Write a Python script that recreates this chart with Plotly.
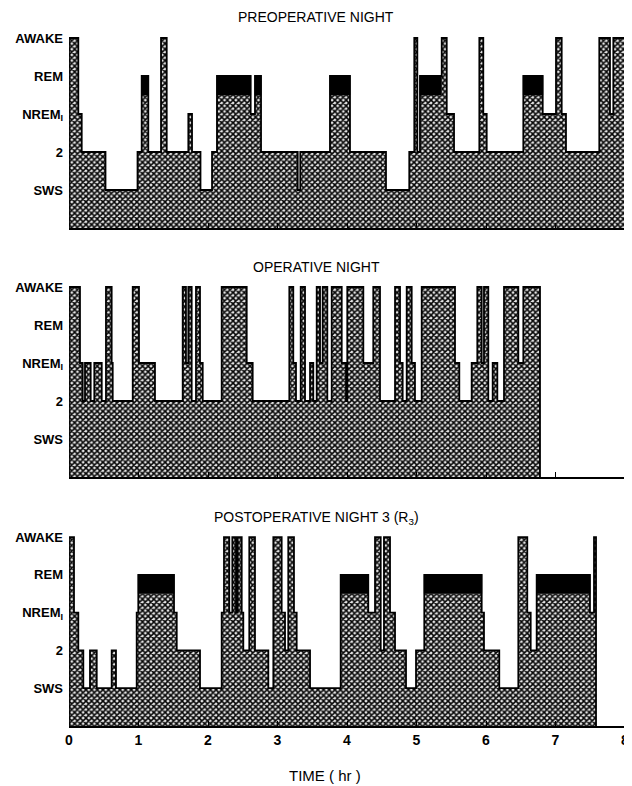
import plotly.graph_objects as go

# ---------------- data ----------------
stage_names = ["AWAKE", "REM", "NREM1", "2", "SWS"]
stage_ticks = ["AWAKE", "REM", "NREM<sub>I</sub>", "2", "SWS"]
stage_levels = [5, 4, 3, 2, 1]
hour_ticks = [0, 1, 2, 3, 4, 5, 6, 7, 8]

pre_start = [0.0, 0.134, 0.183, 0.525, 0.986, 1.046, 1.141, 1.324, 1.406, 1.717,
             1.770, 1.892, 2.058, 2.129, 2.614, 2.676, 2.763, 3.291, 3.328, 3.755,
             4.043, 4.561, 4.896, 4.968, 5.012, 5.050, 5.363, 5.435, 5.540, 5.904,
             5.961, 6.010, 6.537, 6.816, 7.007, 7.089, 7.151, 7.630, 7.784, 7.832]
pre_stage = ["AWAKE", "NREM1", "2", "SWS", "2", "REM", "2", "AWAKE", "2", "NREM1",
             "2", "SWS", "2", "REM", "NREM1", "REM", "2", "SWS", "2", "REM",
             "2", "SWS", "2", "AWAKE", "2", "REM", "AWAKE", "NREM1", "2", "AWAKE",
             "NREM1", "2", "REM", "NREM1", "AWAKE", "NREM1", "2", "AWAKE", "NREM1", "AWAKE"]
pre_end = 8.0

op_start = [0.0, 0.158, 0.197, 0.230, 0.312, 0.364, 0.471, 0.532, 0.614, 0.629,
            0.917, 1.007, 1.237, 1.636, 1.683, 1.717, 1.765, 1.827, 1.885, 1.924,
            2.197, 2.557, 2.643, 3.170, 3.227, 3.266, 3.334, 3.396, 3.468, 3.515,
            3.564, 3.612, 3.650, 3.717, 3.780, 3.924, 3.986, 4.004, 4.235, 4.378,
            4.475, 4.691, 4.763, 4.801, 4.859, 4.931, 4.978, 5.075, 5.554, 5.616,
            5.794, 5.875, 5.938, 5.971, 6.033, 6.096, 6.163, 6.259, 6.465, 6.537]
op_stage = ["AWAKE", "NREM1", "2", "NREM1", "2", "NREM1", "2", "AWAKE", "NREM1", "2",
            "AWAKE", "NREM1", "2", "AWAKE", "NREM1", "AWAKE", "2", "AWAKE", "NREM1", "2",
            "AWAKE", "NREM1", "2", "AWAKE", "NREM1", "2", "AWAKE", "2", "NREM1", "2",
            "AWAKE", "NREM1", "AWAKE", "2", "AWAKE", "NREM1", "2", "AWAKE", "NREM1", "AWAKE",
            "2", "AWAKE", "NREM1", "2", "AWAKE", "NREM1", "2", "AWAKE", "NREM1", "2",
            "NREM1", "AWAKE", "NREM1", "AWAKE", "2", "NREM1", "2", "AWAKE", "NREM1", "AWAKE"]
op_end = 6.777

post_start = [0.0, 0.072, 0.134, 0.206, 0.302, 0.399, 0.614, 0.676, 0.974, 0.997,
              1.511, 1.550, 1.885, 2.197, 2.230, 2.306, 2.350, 2.403, 2.427, 2.485,
              2.508, 2.594, 2.676, 2.868, 2.940, 3.060, 3.108, 3.155, 3.237, 3.276,
              3.468, 3.909, 4.306, 4.403, 4.485, 4.532, 4.619, 4.691, 4.849, 4.993,
              5.112, 5.938, 5.971, 6.191, 6.465, 6.594, 6.643, 6.729, 7.496, 7.554]
post_stage = ["AWAKE", "NREM1", "2", "SWS", "2", "SWS", "2", "SWS", "NREM1", "REM",
              "NREM1", "2", "SWS", "NREM1", "AWAKE", "NREM1", "AWAKE", "NREM1", "AWAKE", "NREM1",
              "2", "AWAKE", "2", "SWS", "AWAKE", "NREM1", "2", "AWAKE", "NREM1", "2",
              "SWS", "REM", "NREM1", "AWAKE", "2", "AWAKE", "NREM1", "2", "SWS", "2",
              "REM", "NREM1", "2", "SWS", "AWAKE", "NREM1", "2", "REM", "NREM1", "AWAKE"]
post_end = 7.583

panels = [
    ("PREOPERATIVE NIGHT", pre_start, pre_stage, pre_end),
    ("OPERATIVE NIGHT", op_start, op_stage, op_end),
    ("POSTOPERATIVE NIGHT 3 (R<sub>3</sub>)", post_start, post_stage, post_end),
]

# ---------------- layout geometry (page pixels; page body adds an 8px offset) ----------------
OFF = 8
W, H = 632 - OFF, 786 - OFF
x_left, x_right = 69 - OFF, 625 - OFF
panel_px = [(26.6 - OFF, 228 - OFF), (275.6 - OFF, 477 - OFF), (525.7 - OFF, 726 - OFF)]
title_y = [17 - OFF, 267 - OFF, 518 - OFF]
xlabel_y = 775 - OFF
center_x = 316 - OFF
YMAX = 5.3
REM_SPLIT = 3.5

level_of = dict(zip(stage_names, stage_levels))
FONT = "Liberation Sans"

fig = go.Figure()

for i, (title, starts, stages, end) in enumerate(panels):
    xa = "x" if i == 0 else f"x{i+1}"
    ya = "y" if i == 0 else f"y{i+1}"
    lv_fill = [REM_SPLIT if s == "REM" else level_of[s] for s in stages]
    lv_line = [level_of[s] for s in stages]
    xs = [starts[0]] + list(starts) + [end, end]
    ys_fill = [0] + lv_fill + [lv_fill[-1], 0]
    ys_line = [0] + lv_line + [lv_line[-1], 0]

    # stippled fill
    fig.add_trace(go.Scatter(
        x=xs, y=ys_fill, mode="lines", line=dict(width=0, shape="hv", color="black"),
        fill="tozeroy", fillcolor="white",
        fillpattern=dict(shape="x", size=4, solidity=0.62, fgcolor="#050505",
                         bgcolor="#e6e6e6", fillmode="replace"),
        xaxis=xa, yaxis=ya, hoverinfo="skip", showlegend=False))

    # black REM caps
    rx, ry = [], []
    for j, s in enumerate(stages):
        if s == "REM":
            a = starts[j]
            b = starts[j + 1] if j + 1 < len(starts) else end
            rx += [a, a, b, b, a, None]
            ry += [REM_SPLIT, 4, 4, REM_SPLIT, REM_SPLIT, None]
    if rx:
        fig.add_trace(go.Scatter(
            x=rx, y=ry, mode="lines", line=dict(width=0.5, color="black"),
            fill="toself", fillcolor="black",
            xaxis=xa, yaxis=ya, hoverinfo="skip", showlegend=False))

    # outline
    fig.add_trace(go.Scatter(
        x=xs, y=ys_line, mode="lines", line=dict(width=1.8, shape="hv", color="black"),
        xaxis=xa, yaxis=ya, hoverinfo="skip", showlegend=False))

    top, bot = panel_px[i]
    xkey = "xaxis" if i == 0 else f"xaxis{i+1}"
    ykey = "yaxis" if i == 0 else f"yaxis{i+1}"
    fig.update_layout(**{
        xkey: dict(domain=[x_left / W, x_right / W], range=[0, 8], anchor=ya,
                   showgrid=False, zeroline=False, showline=True, linecolor="black",
                   linewidth=1.5, ticks="inside", ticklen=5, tickwidth=1.3,
                   tickcolor="black", tickvals=hour_ticks,
                   ticktext=[str(h) for h in hour_ticks],
                   showticklabels=(i == 2), automargin=False,
                   tickfont=dict(family=FONT, size=14, color="black", weight="bold")),
        ykey: dict(domain=[1 - bot / H, 1 - top / H], range=[0, YMAX], anchor=xa,
                   showgrid=False, zeroline=False, showline=False, ticks="",
                   tickvals=stage_levels, ticktext=stage_ticks, automargin=False,
                   ticklabelstandoff=5,
                   tickfont=dict(family=FONT, size=13, color="black", weight="bold")),
    })
    fig.add_annotation(text=title, x=center_x / W, y=1 - title_y[i] / H, xref="paper",
                       yref="paper", showarrow=False, xanchor="center", yanchor="middle",
                       font=dict(family=FONT, size=14, color="black"))

fig.add_annotation(text="TIME ( hr )", x=(325 - OFF) / W, y=1 - xlabel_y / H, xref="paper",
                   yref="paper", showarrow=False, xanchor="center", yanchor="middle",
                   font=dict(family=FONT, size=15, color="black"))

fig.update_layout(width=W, height=H, margin=dict(l=0, r=0, t=0, b=0),
                  paper_bgcolor="white", plot_bgcolor="white", template="none",
                  showlegend=False)

fig.write_html("out.html")
